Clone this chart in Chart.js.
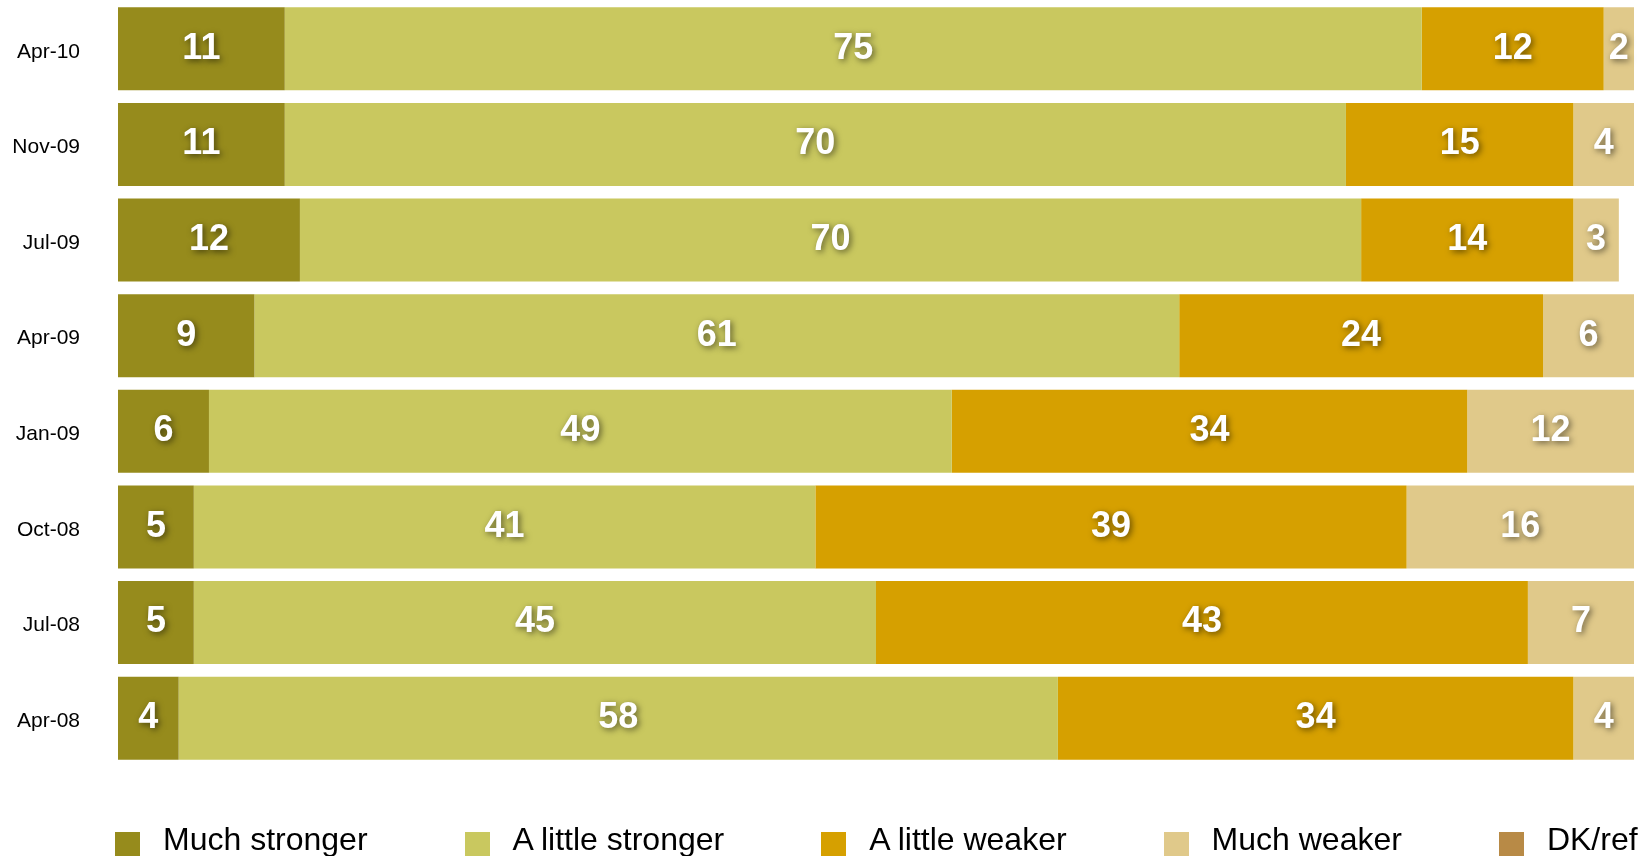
<!DOCTYPE html>
<html>
<head>
<meta charset="utf-8">
<script src="https://cdn.jsdelivr.net/npm/chart.js"></script>
<style>
  html, body { margin: 0; padding: 0; background: #fff; overflow: hidden; }
  #wrap { position: relative; width: 1641px; height: 856px; }
  #legenda {
    position: absolute; left: 115px; top: 823px; display: flex;
    font-family: "Liberation Sans", Arial, sans-serif; font-size: 32px; line-height: 32px;
    color: #000; white-space: nowrap;
  }
  .item { display: flex; align-items: flex-start; margin-right: 97px; }
  .caixa { width: 25px; height: 25px; margin-top: 9px; margin-right: 23px; }
</style>
</head>
<body>
<div id="wrap">
  <canvas id="grafico"></canvas>
  <div id="legenda"></div>
</div>
<script>
const categorias = ['Apr-10', 'Nov-09', 'Jul-09', 'Apr-09', 'Jan-09', 'Oct-08', 'Jul-08', 'Apr-08'];
const muitoMaisForte = [11, 11, 12, 9, 6, 5, 5, 4];
const poucoMaisForte = [75, 70, 70, 61, 49, 41, 45, 58];
const poucoMaisFraco = [12, 15, 14, 24, 34, 39, 43, 34];
const muitoMaisFraco = [2, 4, 3, 6, 12, 16, 7, 4];
const naoSabe = [0, 0, 0, 0, 0, 0, 0, 0];
const series = ['Much stronger', 'A little stronger', 'A little weaker', 'Much weaker', 'DK/ref'];
const cores = ['#968b1c', '#c9c85f', '#d6a000', '#e0c98a', '#b88a46'];

const valores = [muitoMaisForte, poucoMaisForte, poucoMaisFraco, muitoMaisFraco, naoSabe];

// rotulos brancos com sombra no meio de cada pedaco
const rotulos = {
  id: 'rotulos',
  afterDatasetsDraw(chart) {
    const ctx = chart.ctx;
    const area = chart.chartArea;
    ctx.save();
    ctx.font = 'bold 36px "Liberation Sans", Arial, sans-serif';
    ctx.fillStyle = '#fff';
    ctx.textAlign = 'center';
    ctx.textBaseline = 'middle';
    ctx.shadowColor = 'rgba(0,0,0,0.55)';
    ctx.shadowBlur = 6;
    ctx.shadowOffsetX = 2;
    ctx.shadowOffsetY = 2;
    chart.data.datasets.forEach((ds, i) => {
      const meta = chart.getDatasetMeta(i);
      meta.data.forEach((bar, j) => {
        const v = ds.data[j];
        if (!v) return;
        const esq = Math.max(Math.min(bar.x, bar.base), area.left);
        const dir = Math.min(Math.max(bar.x, bar.base), area.right);
        ctx.fillText(v, (esq + dir) / 2, bar.y);
      });
    });
    ctx.restore();
  }
};

const grafico = new Chart(document.getElementById('grafico'), {
  type: 'bar',
  data: {
    labels: categorias,
    datasets: series.map((nome, i) => ({
      label: nome,
      data: valores[i],
      backgroundColor: cores[i],
      borderWidth: 0,
      categoryPercentage: 1,
      barPercentage: 0.868,
      clip: 0
    }))
  },
  options: {
    indexAxis: 'y',
    responsive: true,
    maintainAspectRatio: false,
    animation: false,
    layout: { padding: { top: 1, right: 7, bottom: 90, left: 0 } },
    plugins: {
      legend: { display: false },
      tooltip: { enabled: false }
    },
    scales: {
      x: { stacked: true, min: 0, max: 100, display: false },
      y: {
        stacked: true,
        grid: { display: false, drawTicks: false },
        border: { display: false },
        ticks: {
          color: '#000',
          padding: 38,
          labelOffset: 3,
          font: { family: '"Liberation Sans", Arial, sans-serif', size: 21 }
        },
        afterFit(scale) {
          scale.width = 118;
          scale.paddingTop = 0;
          scale.paddingBottom = 0;
        }
      }
    }
  },
  plugins: [rotulos]
});

// legenda em html
const legenda = document.getElementById('legenda');
grafico.data.datasets.forEach(ds => {
  const item = document.createElement('div');
  item.className = 'item';
  const caixa = document.createElement('span');
  caixa.className = 'caixa';
  caixa.style.background = ds.backgroundColor;
  const texto = document.createElement('span');
  texto.textContent = ds.label;
  item.appendChild(caixa);
  item.appendChild(texto);
  legenda.appendChild(item);
});
</script>
</body>
</html>
